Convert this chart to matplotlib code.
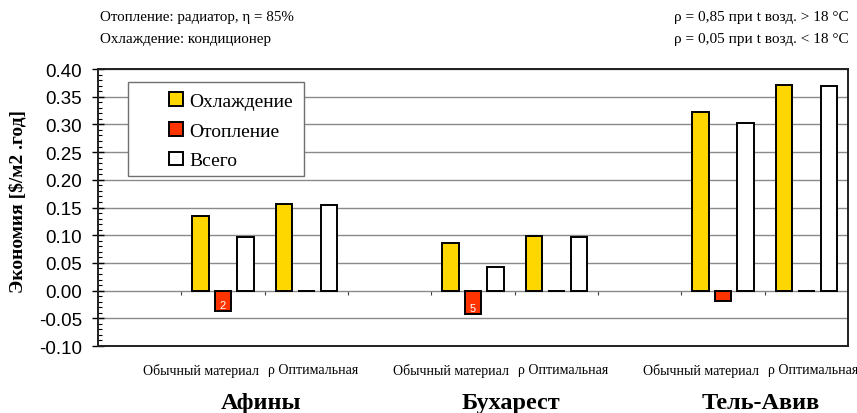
import matplotlib

matplotlib.use("Agg")
import matplotlib.pyplot as plt
import numpy as np
from matplotlib.patches import Rectangle

cities = ["Афины", "Бухарест", "Тель-Авив"]
variants = ["Обычный материал", "ρ Оптимальная"]
series_names = ["Охлаждение", "Отопление", "Всего"]
cooling = [0.135, 0.156, 0.086, 0.099, 0.322, 0.371]
heating = [-0.037, -0.001, -0.043, -0.001, -0.019, -0.001]
total = [0.097, 0.155, 0.043, 0.097, 0.303, 0.370]
heating_marks = ["2", "", "5", "", "", ""]
yticks = np.arange(-0.10, 0.401, 0.05)

SERIF = "Liberation Serif"
SANS = "Liberation Sans"

fig = plt.figure(figsize=(8.57, 4.14), dpi=100)
ax = fig.add_axes([0.1144, 0.1618, 0.8751, 0.6691])

# slot layout: empty slot, then the two variants for each city
centers = np.array([3 * g + 1 + v + 0.5 for g in range(len(cities)) for v in range(len(variants))])
width = 0.2
offset = 0.27

ax.bar(centers - offset, cooling, width, color="#FFD700", edgecolor="black",
       linewidth=1.4, label=series_names[0], zorder=3)
ax.bar(centers, heating, width, color="#FF3300", edgecolor="black",
       linewidth=1.4, label=series_names[1], zorder=3)
ax.bar(centers + offset, total, width, color="white", edgecolor="black",
       linewidth=1.4, label=series_names[2], zorder=3)

for x, h, mark in zip(centers, heating, heating_marks):
    if mark:
        ax.text(x, h + 0.002, mark, color="white", fontsize=8, family=SANS,
                ha="center", va="bottom", zorder=4)

ax.set_xlim(0, 9)
ax.set_ylim(-0.10, 0.40)
ax.set_yticks(yticks)
ax.set_yticklabels([f"{v:.2f}" for v in yticks], family=SANS, fontsize=13.5)
ax.set_yticks(np.arange(-0.10, 0.401, 0.01), minor=True)
ax.tick_params(axis="y", which="major", direction="inout", length=9, width=1, pad=7)
ax.tick_params(axis="y", which="minor", direction="in", length=3, width=0.8)
ax.set_xticks([])
ax.yaxis.grid(True, color="#8a8a8a", linewidth=1)
ax.set_axisbelow(True)
for s in ax.spines.values():
    s.set_linewidth(1.4)
    s.set_color("#202020")

# small category ticks on the zero line
zero_axis = ax.secondary_xaxis(0.2)
zero_axis.set_xticks(np.arange(1, 9))
zero_axis.set_xticklabels([])
zero_axis.tick_params(direction="out", length=3, width=0.8, color="#404040")
zero_axis.spines["bottom"].set_visible(False)

ax.set_ylabel("Экономия [$/м2 .год]", family=SERIF, fontsize=14,
              fontweight="bold")
ax.yaxis.set_label_coords(-0.096, 0.527)

for g, city in enumerate(cities):
    base = 3 * g + 1
    ax.text(base + 0.23, -0.1426, variants[0], family=SERIF, fontsize=10,
            ha="center", va="center", clip_on=False)
    ax.text(base + 1.58, -0.1426, variants[1], family=SERIF, fontsize=10,
            ha="center", va="center", clip_on=False)
    ax.text(base + 0.95, -0.202, city, family=SERIF, fontsize=17.5,
            fontweight="bold", ha="center", va="center", clip_on=False)

fig.text(100 / 857, 1 - 17 / 414, "Отопление: радиатор, η = 85%",
         family=SERIF, fontsize=10.8, ha="left", va="center")
fig.text(100 / 857, 1 - 39 / 414, "Охлаждение: кондиционер",
         family=SERIF, fontsize=10.8, ha="left", va="center")
fig.text(849 / 857, 1 - 17 / 414, "ρ = 0,85 при t возд. > 18 °C",
         family=SERIF, fontsize=11, ha="right", va="center")
fig.text(849 / 857, 1 - 40 / 414, "ρ = 0,05 при t возд. < 18 °C",
         family=SERIF, fontsize=11, ha="right", va="center")

# legend box drawn separately so the entries can sit right of centre
ax.add_patch(Rectangle((0.04, 0.614), 0.2347, 0.339, transform=ax.transAxes,
                       facecolor="white", edgecolor="#707070", linewidth=1,
                       zorder=5))
leg = ax.legend(loc="upper left", bbox_to_anchor=(0.0947, 0.917),
                prop={"family": SERIF, "size": 14}, handlelength=0.72,
                handleheight=0.72, labelspacing=0.62, borderpad=0,
                handletextpad=0.3, frameon=False, borderaxespad=0)
leg.set_zorder(6)

fig.savefig("out.png", dpi=100)
